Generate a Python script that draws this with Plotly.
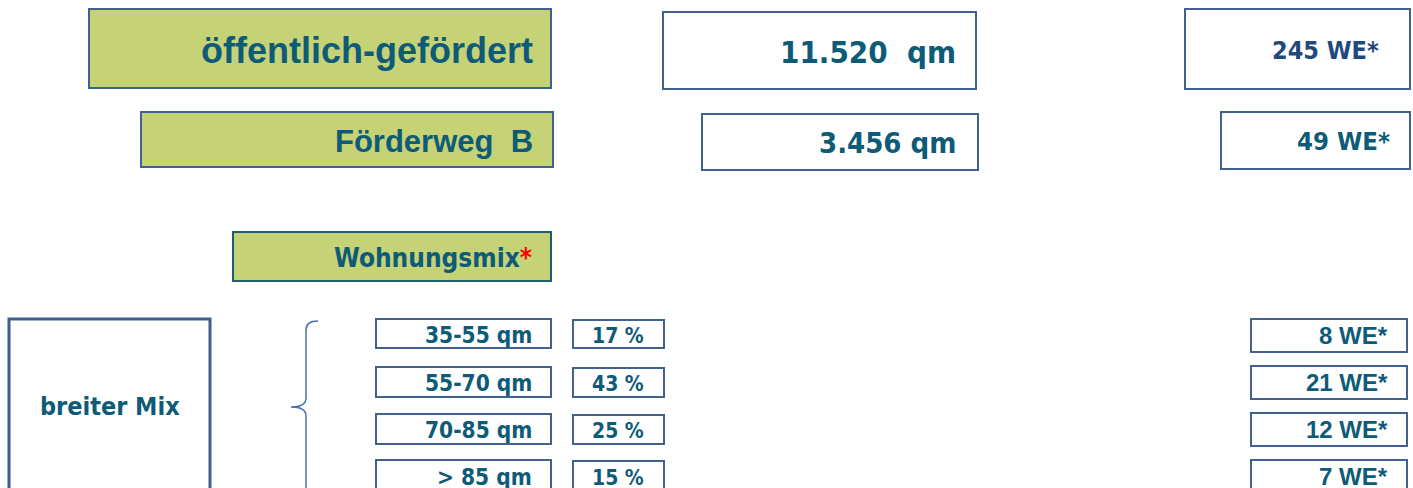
import plotly.graph_objects as go

# ---- data ----
header_labels = ["öffentlich-gefördert", "Förderweg  B"]
header_area = ["11.520  qm", "3.456 qm"]
header_units = ["245 WE*", "49 WE*"]
mix_title = "Wohnungsmix"
mix_label = "breiter Mix"
size_classes = ["35-55 qm", "55-70 qm", "70-85 qm", "> 85 qm"]
shares_pct = [17, 43, 25, 15]
units_we = [8, 21, 12, 7]

W, H = 1413, 488
GREEN = "#C6D276"
BLUE = "#41628F"
TEAL = "#0E5B77"
DARKBLUE = "#1F497D"
NARROW = "Liberation Sans Narrow, Arial Narrow, DejaVu Sans Condensed, sans-serif"
REG = "Liberation Sans, Arial, sans-serif"

fig = go.Figure()
fig.add_trace(go.Scatter(x=[0, W], y=[0, H], mode="markers",
                         marker=dict(opacity=0), hoverinfo="skip", showlegend=False))

shapes = []
annos = []

def box(x0, y0, x1, y1, fill="white", line=BLUE, lw=2):
    shapes.append(dict(type="rect", x0=x0, y0=y0, x1=x1, y1=y1,
                       fillcolor=fill, line=dict(color=line, width=lw), layer="below"))

def text(x, y, t, size, color=TEAL, family=REG, anchor="right"):
    annos.append(dict(x=x, y=y, text=t, showarrow=False, xanchor=anchor, yanchor="middle",
                      font=dict(size=size, color=color, family=family)))

# header row 1 & 2
hdr = [
    dict(b=(89, 9, 551, 88), tx=535, ty=50, fs=36,
         a=(663, 12, 976, 89), atx=958, aty=52, afs=31,
         u=(1185, 9, 1410, 89), utx=1381, uty=50, ufs=25, ucol=DARKBLUE),
    dict(b=(141, 112, 553, 167), tx=535, ty=141, fs=31,
         a=(702, 114, 978, 170), atx=958, aty=143, afs=29,
         u=(1221, 112, 1410, 169), utx=1392, uty=141, ufs=25.5, ucol=TEAL),
]
for i, h in enumerate(hdr):
    box(*h["b"], fill=GREEN)
    text(h["tx"], h["ty"], f"<b>{header_labels[i]}</b>", h["fs"])
    box(*h["a"])
    text(h["atx"], h["aty"], f"<b>{header_area[i]}</b>", h["afs"], family=NARROW)
    box(*h["u"])
    text(h["utx"], h["uty"], f"<b>{header_units[i]}</b>", h["ufs"], color=h["ucol"], family=NARROW)

# Wohnungsmix
box(233, 232, 551, 281, fill=GREEN, line="#205E6E")
text(534, 258, f"<b>{mix_title}<span style='color:#FF0000'>*</span></b>", 26, family=NARROW)

# breiter Mix box
box(9, 319, 210, 500, line="#3F5F8E", lw=3)
text(110, 406, f"<b>{mix_label}</b>", 25, family=NARROW, anchor="center")

# brace
shapes.append(dict(type="path",
                   path="M 318,321 Q 306,321 306,330 L 306,398 Q 306,407 291,407 Q 306,407 306,416 L 306,500",
                   line=dict(color="#4A72B0", width=1.5)))

rows_y = [(319, 348), (367, 397), (414, 444), (460, 492)]
we_y = [(319, 352), (366, 399), (413, 446), (460, 492)]
for i, cls in enumerate(size_classes):
    y0, y1 = rows_y[i]
    cy = (y0 + y1) / 2
    box(376, y0, 551, y1)
    text(534, cy + 1, f"<b>{cls}</b>", 22.5, family=NARROW)
    box(573, y0 + 1, 664, y1)
    text(646, cy + 2, f"<b>{shares_pct[i]} %</b>", 21, family=NARROW)
    wy0, wy1 = we_y[i]
    box(1251, wy0, 1407, wy1)
    text(1390, (wy0 + wy1) / 2, f"<b>{units_we[i]} WE*</b>", 24)

fig.update_layout(
    width=W, height=H, margin=dict(l=0, r=0, t=0, b=0),
    paper_bgcolor="white", plot_bgcolor="white",
    xaxis=dict(range=[0, W], visible=False, fixedrange=True),
    yaxis=dict(range=[H, 0], visible=False, fixedrange=True),
    shapes=shapes, annotations=annos, showlegend=False,
)
fig.write_html("out.html", config={"displayModeBar": False},
               post_script="document.body.style.margin='0';document.body.style.overflow='hidden';")
